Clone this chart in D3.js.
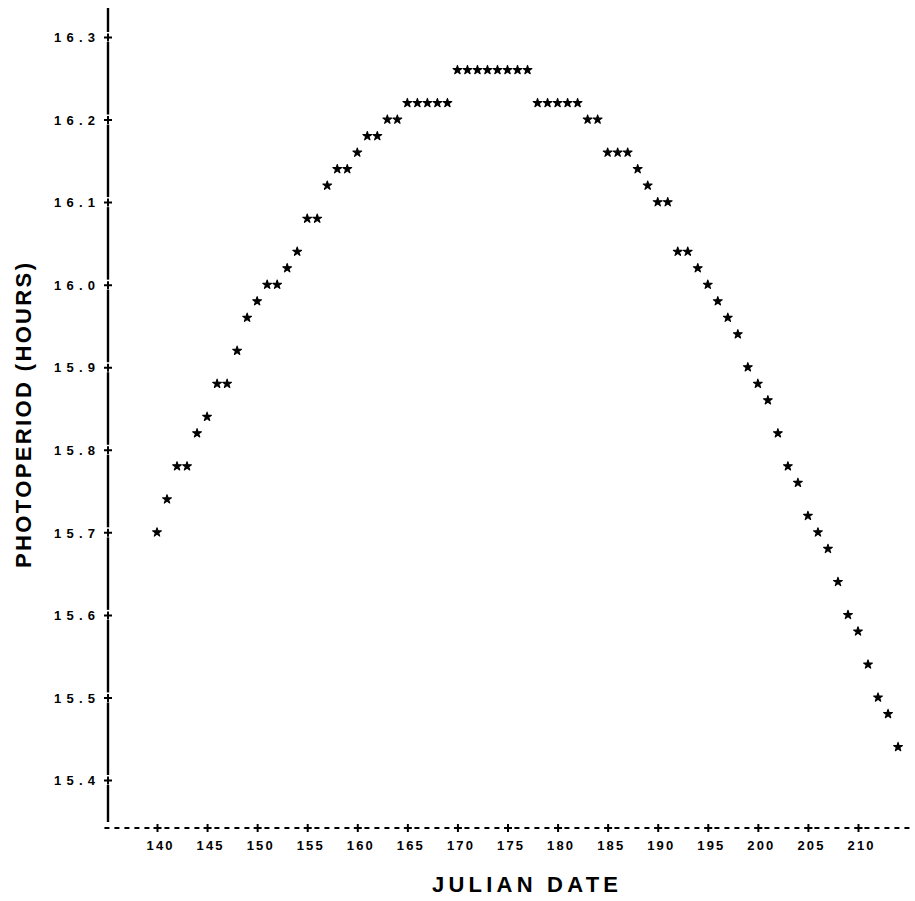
<!DOCTYPE html>
<html><head><meta charset="utf-8">
<script src="https://cdn.jsdelivr.net/npm/d3@7"></script>
<style>
html,body{margin:0;padding:0;background:#fff;}
svg{display:block;}
</style></head>
<body>
<script>
// ---- data ----
const days = [140,141,142,143,144,145,146,147,148,149,150,151,152,153,154,155,156,157,158,159,
  160,161,162,163,164,165,166,167,168,169,170,171,172,173,174,175,176,177,178,179,
  180,181,182,183,184,185,186,187,188,189,190,191,192,193,194,195,196,197,198,199,
  200,201,202,203,204,205,206,207,208,209,210,211,212,213,214];
const photoperiod = [15.70,15.74,15.78,15.78,15.82,15.84,15.88,15.88,15.92,15.96,15.98,16.00,16.00,16.02,16.04,16.08,16.08,16.12,16.14,16.14,
  16.16,16.18,16.18,16.20,16.20,16.22,16.22,16.22,16.22,16.22,16.26,16.26,16.26,16.26,16.26,16.26,16.26,16.26,16.22,16.22,
  16.22,16.22,16.22,16.20,16.20,16.16,16.16,16.16,16.14,16.12,16.10,16.10,16.04,16.04,16.02,16.00,15.98,15.96,15.94,15.90,
  15.88,15.86,15.82,15.78,15.76,15.72,15.70,15.68,15.64,15.60,15.58,15.54,15.50,15.48,15.44];
const xTicks = [140,145,150,155,160,165,170,175,180,185,190,195,200,205,210];
const yTicks = [15.4,15.5,15.6,15.7,15.8,15.9,16.0,16.1,16.2,16.3];
const xTitle = "JULIAN DATE";
const yTitle = "PHOTOPERIOD (HOURS)";

const W = 915, H = 901;
const svg = d3.select("body").append("svg").attr("width", W).attr("height", H);

const x = d3.scaleLinear().domain([140, 210]).range([157, 858]);
const y = d3.scaleLinear().domain([15.4, 16.3]).range([780, 37]);
const axisX = 108, axisY = 828;
const FONT = "'Liberation Sans', Arial, sans-serif";

// y axis line (solid, with small gaps at the ticks)
const ySegs = [];
const yEdges = [8].concat(yTicks.slice().reverse().map(t => y(t))).concat([822]);
for (let i = 0; i < yEdges.length - 1; i++) {
  const a = yEdges[i] + (i === 0 ? 0 : 5), b = yEdges[i + 1] - (i === yEdges.length - 2 ? 0 : 5);
  ySegs.push([a, b]);
}
svg.append("g").selectAll("line").data(ySegs).join("line")
  .attr("x1", axisX).attr("x2", axisX).attr("y1", d => d[0]).attr("y2", d => d[1])
  .attr("stroke", "#000").attr("stroke-width", 2.4);

// y axis via d3 axis (labels), plus marks
const gy = svg.append("g").attr("transform", `translate(${axisX},0)`)
  .call(d3.axisLeft(y).tickValues(yTicks).tickSize(0).tickPadding(13).tickFormat(d3.format(".1f")));
gy.select(".domain").remove();
gy.selectAll("text").attr("font-family", FONT).attr("font-weight", "bold")
  .attr("font-size", 13).attr("textLength", 41).attr("lengthAdjust", "spacing")
  .attr("fill", "#000").attr("dy", "0.36em");
gy.selectAll(".tick").append("path").attr("d", "M-4,0H4M0,-4V4").attr("stroke", "#000").attr("stroke-width", 2);

// x axis dashed line
const x0 = x(135) - 2.5;
svg.append("line").attr("x1", x0).attr("x2", 912).attr("y1", axisY).attr("y2", axisY)
  .attr("stroke", "#000").attr("stroke-width", 1.8).attr("stroke-dasharray", "5,5");
const gx = svg.append("g").attr("transform", `translate(0,${axisY})`)
  .call(d3.axisBottom(x).tickValues(xTicks).tickSize(0).tickPadding(13).tickFormat(d3.format("d")));
gx.select(".domain").remove();
gx.selectAll("text").attr("font-family", FONT).attr("font-weight", "bold")
  .attr("font-size", 13).attr("textLength", 26).attr("lengthAdjust", "spacing")
  .attr("fill", "#000").attr("dx", "2");
gx.selectAll(".tick").append("rect").attr("x", -3).attr("y", -3).attr("width", 6).attr("height", 6).attr("fill", "#fff");
gx.selectAll(".tick").append("path").attr("d", "M-4,0H4M0,-4V4").attr("stroke", "#000").attr("stroke-width", 2);

// points
const star = d3.symbol().type(d3.symbolStar).size(24);
svg.append("g").selectAll("path").data(days.map((d, i) => [d, photoperiod[i]])).join("path")
  .attr("transform", d => `translate(${x(d[0])},${y(d[1])})`)
  .attr("d", star).attr("fill", "#000").attr("stroke", "#000").attr("stroke-width", 1.1)
  .attr("stroke-linejoin", "round");

// titles
svg.append("text").attr("x", 432).attr("y", 892).attr("textLength", 186).attr("lengthAdjust", "spacing")
  .attr("font-family", FONT).attr("font-weight", "bold")
  .attr("font-size", 22).attr("fill", "#000").text(xTitle);
svg.append("text").attr("transform", "translate(31,568) rotate(-90)").attr("textLength", 305).attr("lengthAdjust", "spacing")
  .attr("font-family", FONT).attr("font-weight", "bold")
  .attr("font-size", 22).attr("fill", "#000").text(yTitle);
</script>
</body></html>
